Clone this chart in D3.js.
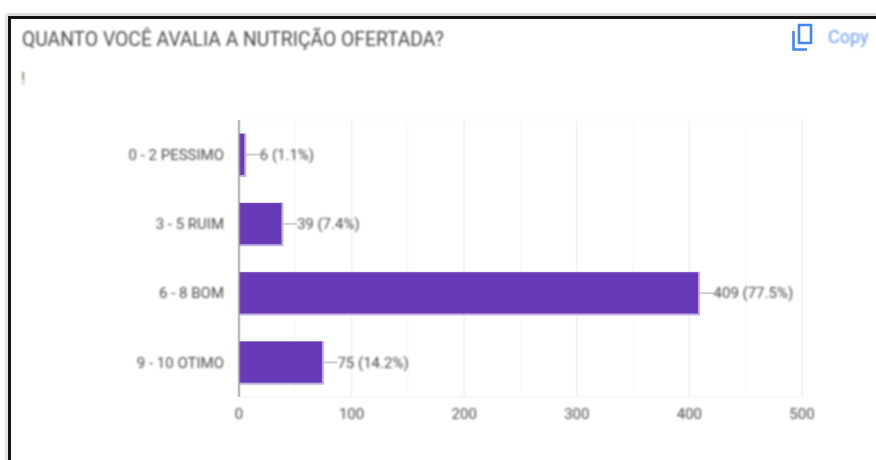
<!DOCTYPE html>
<html>
<head>
<meta charset="utf-8">
<script src="https://cdn.jsdelivr.net/npm/d3@7"></script>
<style>
html, body { margin: 0; padding: 0; background: #fff; }
svg { display: block; }
text { font-family: Roboto, sans-serif; }
</style>
</head>
<body>
<div id="chart"></div>
<script>
var categories = ["0 - 2 PESSIMO", "3 - 5 RUIM", "6 - 8 BOM", "9 - 10 OTIMO"];
var counts = [6, 39, 409, 75];
var percents = ["1.1%", "7.4%", "77.5%", "14.2%"];
var majorTicks = [0, 100, 200, 300, 400, 500];
var minorTicks = [50, 150, 250, 350, 450];

var width = 876;
var height = 460;
var x = d3.scaleLinear().domain([0, 500]).range([239, 802]);
var y = d3.scaleBand().domain(categories).range([120, 397]).paddingInner(0.37).paddingOuter(0.185);

var svg = d3.select('#chart')
	.append('svg')
	.attr('width', width)
	.attr('height', height);

// the original is a blurry screenshot
var defs = svg.append('defs');
defs.append('filter').attr('id', 'soft')
	.append('feGaussianBlur').attr('stdDeviation', 0.85);
defs.append('filter').attr('id', 'softer')
	.append('feGaussianBlur').attr('stdDeviation', 0.5);

// card frame
svg.append('rect').attr('x', 5).attr('y', 13).attr('width', 871).attr('height', 3).attr('fill', '#dedede');
svg.append('rect').attr('x', 5).attr('y', 13).attr('width', 3).attr('height', 447).attr('fill', '#e6e6e6');
svg.append('rect').attr('x', 8).attr('y', 16).attr('width', 868).attr('height', 3).attr('fill', '#151515');
svg.append('rect').attr('x', 8).attr('y', 16).attr('width', 3).attr('height', 444).attr('fill', '#151515');

var head = svg.append('g').attr('filter', 'url(#soft)');
head.append('text')
	.attr('x', 22).attr('y', 45.5)
	.attr('font-size', 19.3)
	.attr('fill', '#4a4a4a')
	.text('QUANTO VOCÊ AVALIA A NUTRIÇÃO OFERTADA?');
head.append('text')
	.attr('x', 21).attr('y', 84)
	.attr('font-size', 17)
	.attr('fill', '#7a6a50')
	.text('!');

// copy icon
var icon = svg.append('g').attr('filter', 'url(#softer)')
	.attr('fill', 'none').attr('stroke', '#4285f4').attr('stroke-width', 2.6);
icon.append('path').attr('d', 'M799 25H811V43H799Z');
icon.append('path').attr('d', 'M793.5 31V49.5H807');
svg.append('text')
	.attr('x', 828).attr('y', 43)
	.attr('font-size', 18)
	.attr('fill', '#6a9cf0')
	.attr('filter', 'url(#soft)')
	.text('Copy');

// grid
var grid = svg.append('g');
grid.selectAll('line.minor').data(minorTicks).enter().append('line')
	.attr('class', 'minor')
	.attr('x1', x).attr('x2', x)
	.attr('y1', 120).attr('y2', 397)
	.attr('stroke', '#fafafa').attr('stroke-width', 1.5);
grid.selectAll('line.major').data(majorTicks.slice(1)).enter().append('line')
	.attr('class', 'major')
	.attr('x1', x).attr('x2', x)
	.attr('y1', 120).attr('y2', 397)
	.attr('stroke', '#f4f4f4').attr('stroke-width', 2);
grid.append('line').attr('x1', 239).attr('x2', 803).attr('y1', 120).attr('y2', 120)
	.attr('stroke', '#fafafa').attr('stroke-width', 2);
grid.append('line').attr('x1', 239).attr('x2', 803).attr('y1', 397).attr('y2', 397)
	.attr('stroke', '#fafafa').attr('stroke-width', 2);

// leader lines
svg.selectAll('line.leader').data(categories).enter().append('line')
	.attr('class', 'leader')
	.attr('x1', function (d, i) { return x(counts[i]); })
	.attr('x2', function (d, i) { return x(counts[i]) + 14; })
	.attr('y1', function (d) { return y(d) + y.bandwidth() / 2; })
	.attr('y2', function (d) { return y(d) + y.bandwidth() / 2; })
	.attr('stroke', '#cfcfcf').attr('stroke-width', 2);

// bars, light edge underneath and the solid part pulled in on the right and bottom
svg.selectAll('rect.edge').data(categories).enter().append('rect')
	.attr('class', 'edge')
	.attr('x', x(0))
	.attr('y', function (d) { return y(d) + 0.5; })
	.attr('width', function (d, i) { return x(counts[i]) - x(0) + 0.5; })
	.attr('height', y.bandwidth())
	.attr('fill', '#c0aee0');
svg.selectAll('rect.bar').data(categories).enter().append('rect')
	.attr('class', 'bar')
	.attr('x', x(0))
	.attr('y', function (d) { return y(d) + 1; })
	.attr('width', function (d, i) { return x(counts[i]) - x(0) - 1.5; })
	.attr('height', y.bandwidth() - 2.5)
	.attr('fill', '#673ab7');

// baseline on top of the bars
svg.append('line').attr('x1', 239).attr('x2', 239).attr('y1', 120).attr('y2', 397)
	.attr('stroke', '#9e9e9e').attr('stroke-width', 2.5).attr('stroke-opacity', 0.7);

var labels = svg.append('g').attr('filter', 'url(#soft)')
	.attr('font-size', 15).attr('fill', '#4a4a4a');

labels.selectAll('text.cat').data(categories).enter().append('text')
	.attr('class', 'cat')
	.attr('x', 224)
	.attr('y', function (d) { return y(d) + y.bandwidth() / 2; })
	.attr('dy', '0.35em')
	.attr('text-anchor', 'end')
	.text(function (d) { return d; });

labels.selectAll('text.val').data(categories).enter().append('text')
	.attr('class', 'val')
	.attr('x', function (d, i) { return x(counts[i]) + 14; })
	.attr('y', function (d) { return y(d) + y.bandwidth() / 2; })
	.attr('dy', '0.35em')
	.text(function (d, i) { return counts[i] + ' (' + percents[i] + ')'; });

labels.selectAll('text.tick').data(majorTicks).enter().append('text')
	.attr('class', 'tick')
	.attr('x', x)
	.attr('y', 414)
	.attr('dy', '0.35em')
	.attr('text-anchor', 'middle')
	.text(function (d) { return d; });
</script>
</body>
</html>
